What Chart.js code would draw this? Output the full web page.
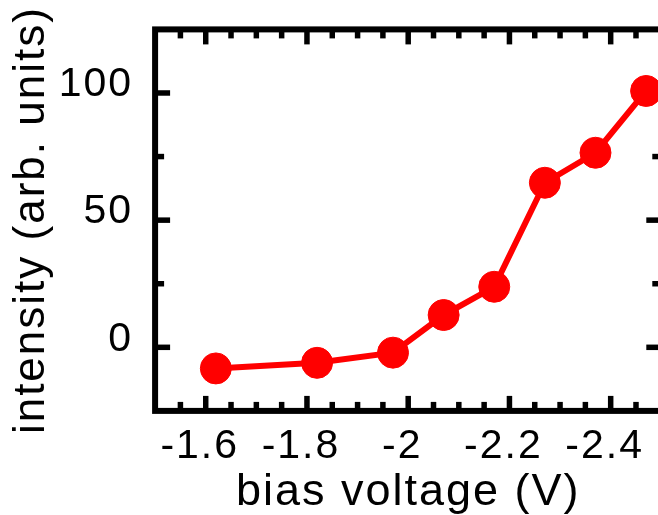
<!DOCTYPE html>
<html>
<head>
<meta charset="utf-8">
<style>
  html, body { margin: 0; padding: 0; background: #fff; overflow: hidden; }
  #wrap { width: 658px; height: 515px; overflow: hidden; position: relative; }
  canvas { display: block; }
</style>
<script src="https://cdn.jsdelivr.net/npm/chart.js@4/dist/chart.umd.min.js"></script>
</head>
<body>
<div id="wrap"><canvas id="grafica" width="664" height="530"></canvas></div>
<script>
// --- datos ---
const biasVoltage = [-1.62, -1.82, -1.97, -2.07, -2.17, -2.27, -2.37, -2.47];
const intensity   = [-8.3, -6.1, -2.1, 12.7, 23.8, 64.7, 76.5, 100.8];

const xMajorTicks = [-1.6, -1.8, -2, -2.2, -2.4];
const xMinorTicks = [-1.55, -1.65, -1.7, -1.75, -1.85, -1.9, -1.95, -2.05, -2.1, -2.15, -2.25, -2.3, -2.35, -2.45];
const yMajorTicks = [0, 50, 100];
const yMinorTicks = [25, 75];

const FONT = "'Liberation Sans', Arial, sans-serif";
const ROJO = '#ff0000';

// sin relleno extra de Chart.js alrededor del área
function sinPadding(s) {
  s.paddingTop = 0; s.paddingBottom = 0; s.paddingLeft = 0; s.paddingRight = 0;
}

// marco negro y ticks hacia dentro
const marcoPlugin = {
  id: 'marco',
  beforeDraw(chart) {
    chart.ctx.letterSpacing = '2px';   /* el texto del original es algo más ancho */
  },
  beforeDatasetsDraw(chart) {
    const { ctx, chartArea: a, scales: { x, y } } = chart;
    ctx.save();
    ctx.strokeStyle = '#000';
    ctx.lineWidth = 5.5;
    ctx.lineCap = 'butt';

    const tick = (x1, y1, x2, y2) => {
      ctx.beginPath(); ctx.moveTo(x1, y1); ctx.lineTo(x2, y2); ctx.stroke();
    };
    const off = 3;
    xMajorTicks.forEach(v => {
      const px = x.getPixelForValue(v);
      tick(px, a.top, px, a.top + off + 12);
      tick(px, a.bottom, px, a.bottom - off - 12);
    });
    xMinorTicks.forEach(v => {
      const px = x.getPixelForValue(v);
      tick(px, a.top, px, a.top + off + 6);
      tick(px, a.bottom, px, a.bottom - off - 6);
    });
    yMajorTicks.forEach(v => {
      const py = y.getPixelForValue(v);
      tick(a.left, py, a.left + off + 12, py);
      tick(a.right, py, a.right - off - 12, py);
    });
    yMinorTicks.forEach(v => {
      const py = y.getPixelForValue(v);
      tick(a.left, py, a.left + off + 6, py);
      tick(a.right, py, a.right - off - 6, py);
    });

    ctx.lineWidth = 6;
    ctx.strokeRect(a.left, a.top, a.right - a.left, a.bottom - a.top);
    ctx.restore();
  }
};

const ctx = document.getElementById('grafica').getContext('2d');
new Chart(ctx, {
  type: 'scatter',
  data: {
    datasets: [{
      data: biasVoltage.map((v, i) => ({ x: v, y: intensity[i] })),
      showLine: true,
      borderColor: ROJO,
      backgroundColor: ROJO,
      borderWidth: 6,
      pointRadius: 15.5,
      pointBorderWidth: 1,
      pointBackgroundColor: ROJO,
      pointBorderColor: ROJO,
      clip: false
    }]
  },
  options: {
    responsive: false,
    animation: false,
    devicePixelRatio: 1,
    layout: { autoPadding: false, padding: { top: 29.4, right: 2.7, left: 0, bottom: 0 } },
    plugins: { legend: { display: false }, tooltip: { enabled: false } },
    scales: {
      x: {
        type: 'linear',
        reverse: true,
        min: -2.5,
        max: -1.5,
        afterBuildTicks: s => { s.ticks = xMajorTicks.map(v => ({ value: v })); },
        afterFit: s => { s.height = 530 - 410.9; sinPadding(s); },
        grid: { display: false, drawTicks: false },
        border: { display: false },
        ticks: {
          color: '#000',
          font: { family: FONT, size: 41 },
          padding: 11.5,
          labelOffset: -6,
          maxRotation: 0,
          autoSkip: false,
          callback: v => String(v)
        },
        title: {
          display: true,
          text: 'bias voltage (V)',
          color: '#000',
          font: { family: FONT, size: 45 },
          padding: { top: 0, bottom: 10.5 }
        }
      },
      y: {
        type: 'linear',
        min: -25,
        max: 125,
        afterBuildTicks: s => { s.ticks = yMajorTicks.map(v => ({ value: v })); },
        afterFit: s => { s.width = 155.1; sinPadding(s); },
        grid: { display: false, drawTicks: false },
        border: { display: false },
        ticks: {
          color: '#000',
          font: { family: FONT, size: 41 },
          padding: 22,
          labelOffset: -8,
          callback: v => String(v)
        },
        title: {
          display: true,
          text: 'intensity (arb. units)',
          color: '#000',
          font: { family: FONT, size: 44 },
          padding: { top: 5, bottom: 0 }
        }
      }
    }
  },
  plugins: [marcoPlugin]
});
</script>
</body>
</html>
